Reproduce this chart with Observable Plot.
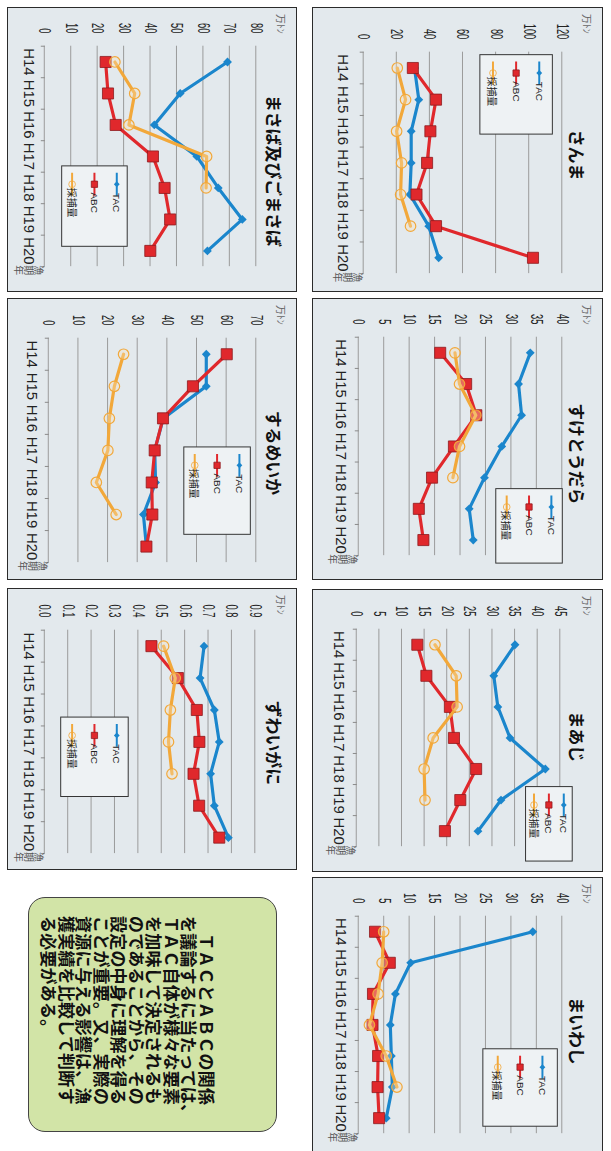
<!DOCTYPE html>
<html><head><meta charset="utf-8">
<script src="https://cdn.jsdelivr.net/npm/d3@7"></script>
<script src="https://cdn.jsdelivr.net/npm/@observablehq/plot@0.6"></script>
<style>
html,body{margin:0;padding:0;background:#fff;overflow:hidden;width:611px;height:1151px;}
#rot{position:absolute;left:0;top:0;width:1160px;height:611px;transform-origin:0 0;transform:translate(611px,0) rotate(90deg);}
.panel{position:absolute;background:#e3e9ed;border:1.5px solid #2b2b2b;box-sizing:border-box;overflow:hidden}
.panel svg{position:absolute;left:-1.5px;top:-1.5px}
#note{position:absolute;background:#d2e4a7;border:1.5px solid #444;border-radius:17px;box-sizing:border-box}
#note .txt{position:absolute;font-family:"Noto Sans CJK JP",sans-serif;font-weight:700;font-size:17px;line-height:17.5px;letter-spacing:0.2px;color:#111;white-space:pre}
</style></head><body><div id="rot"></div><script>
const years = ["H14","H15","H16","H17","H18","H19","H20"];
const seriesNames = ["TAC","ABC","採捕量"];
const titles = ["さんま","すけとうだら","まあじ","まいわし","まさば及びごまさば","するめいか","ずわいがに"];
const unitLabel = "万ﾄﾝ";
const xTitle = ["漁","期","年"];

const sanmaTAC = [31, 33.6, 29, 29, 28.2, 39.6, 45.6];
const sanmaABC = [30, 44, 40.6, 38.6, 32.2, 44, 102.6];
const sanmaCatch = [20.6, 25.6, 20.2, 23.2, 22.6, 28.6];
const sanmaTicks = [0, 20, 40, 60, 80, 100, 120];

const sukesoTAC = [33.8, 31.5, 32.1, 28.2, 24.8, 21.8, 22.6];
const sukesoABC = [16.1, 21.2, 23.2, 18.8, 14.5, 11.9, 12.8];
const sukesoCatch = [19.0, 19.9, 23.1, 19.9, 18.6];
const sukesoTicks = [0, 5, 10, 15, 20, 25, 30, 35, 40];

const maajiTAC = [35.1, 30.4, 31.3, 34.0, 41.8, 32.0, 26.9];
const maajiABC = [13.5, 15.5, 20.7, 21.6, 26.5, 23.0, 19.6];
const maajiCatch = [17.4, 22.1, 22.3, 17.0, 15.0, 15.2];
const maajiTicks = [0, 5, 10, 15, 20, 25, 30, 35, 40, 45];

const maiwashiTAC = [34.3, 10.3, 7.3, 6.3, 6.5, 6.7, 5.5];
const maiwashiABC = [3.3, 6.2, 2.9, 2.8, 3.9, 3.8, 4.1];
const maiwashiCatch = [5.0, 4.7, 3.9, 2.2, 5.5, 7.6];
const maiwashiTicks = [0, 5, 10, 15, 20, 25, 30, 35, 40];

const masabaTAC = [69.3, 51.4, 41.6, 57.7, 65.8, 74.9, 61.7];
const masabaABC = [23.2, 24.1, 27.0, 41.1, 45.5, 47.6, 40.1];
const masabaCatch = [26.7, 34.2, 32.0, 61.4, 61.2];
const masabaTicks = [0, 10, 20, 30, 40, 50, 60, 70, 80];

const surumeTAC = [53.3, 53.3, 38.8, 35.9, 36.2, 32.1, 33.1];
const surumeABC = [60.2, 48.8, 38.7, 35.9, 34.9, 35.1, 33.1];
const surumeCatch = [25.4, 22.3, 20.6, 20.1, 16.2, 22.9];
const surumeTicks = [0, 10, 20, 30, 40, 50, 60, 70];

const zuwaiTAC = [0.683, 0.666, 0.727, 0.748, 0.711, 0.727, 0.787];
const zuwaiABC = [0.458, 0.571, 0.652, 0.663, 0.638, 0.662, 0.748];
const zuwaiCatch = [0.510, 0.560, 0.539, 0.531, 0.546];
const zuwaiTicks = [0, 0.1, 0.2, 0.3, 0.4, 0.5, 0.6, 0.7, 0.8, 0.9];

const noteLines = ["　ＴＡＣとＡＢＣの関係","を議論するに当たっては、","ＴＡＣ自体が様々な要素","を加味して決定されるも","のであることから、その","設定の中身に理解を得る","ことが重要。又、実際の","資源に与える影響は、漁","獲実績を比較して判断す","る必要がある。"];

const species = [
  {tac: sanmaTAC, abc: sanmaABC, cat: sanmaCatch, ticks: sanmaTicks},
  {tac: sukesoTAC, abc: sukesoABC, cat: sukesoCatch, ticks: sukesoTicks},
  {tac: maajiTAC, abc: maajiABC, cat: maajiCatch, ticks: maajiTicks},
  {tac: maiwashiTAC, abc: maiwashiABC, cat: maiwashiCatch, ticks: maiwashiTicks},
  {tac: masabaTAC, abc: masabaABC, cat: masabaCatch, ticks: masabaTicks},
  {tac: surumeTAC, abc: surumeABC, cat: surumeCatch, ticks: surumeTicks},
  {tac: zuwaiTAC, abc: zuwaiABC, cat: zuwaiCatch, ticks: zuwaiTicks, dec: 1}
];

// layout in the unrotated frame (1151 x 611), then turned 90deg clockwise
const layout = [
  {x:7,   y:8,   w:285, h:291, ml:45, pw:223, mt:41, ph:200, xg:15, tx:149, ty:26, lg:{x:48,y:51,w:80,h:73,g:23.3}},
  {x:298, y:8,   w:282, h:291, ml:39, pw:220, mt:41, ph:205, xg:12, tx:157, ty:26, lg:{x:192,y:41,w:75,h:67,g:22.5}},
  {x:589, y:8,   w:283, h:291, ml:40, pw:219, mt:43, ph:205, xg:12, tx:149, ty:26, lg:{x:199,y:31,w:75,h:47,g:15}},
  {x:877, y:8,   w:283, h:291, ml:39, pw:219, mt:41, ph:205, xg:12, tx:155, ty:26, lg:{x:173,y:46,w:78,h:75,g:22.5}},
  {x:7,   y:314, w:285, h:290, ml:39, pw:222, mt:41, ph:213, xg:10, tx:165, ty:22.5, lg:{x:160,y:171,w:81,h:66,g:22.5}},
  {x:298, y:314, w:282, h:290, ml:40, pw:226, mt:41, ph:209, xg:11, tx:156, ty:22.5, lg:{x:150,y:47,w:88,h:67,g:22.5}},
  {x:588, y:314, w:282, h:290, ml:42, pw:225, mt:42, ph:212, xg:10, tx:156, ty:22.5, lg:{x:130,y:170,w:80,h:68,g:22.5}}
];
const noteBox = {x:897, y:334, w:235, h:249, tx:18, ty:60};

const colors = {tac:"#1b86cc", abc:"#e0282c", abcEdge:"#8e1a1e", cat:"#f2a83a"};
const latin = "'Liberation Sans', Arial, sans-serif";
const cjk = "'Noto Sans CJK JP', sans-serif";

const root = document.getElementById("rot");

function rowsOf(arr) { return arr.map((v, i) => ({i, v})); }

species.forEach((S, k) => {
  const L = layout[k];
  const tac = rowsOf(S.tac), abc = rowsOf(S.abc), cat = rowsOf(S.cat);
  const idx = years.map((_, i) => i);
  const bounds = years.map((_, i) => i - 0.5).concat([years.length - 0.5]);
  const fmt = S.dec ? (d => d.toFixed(1)) : (d => String(d));
  const svg = Plot.plot({
    width: L.w, height: L.h,
    marginLeft: L.ml, marginRight: L.w - L.ml - L.pw,
    marginTop: L.mt, marginBottom: L.h - L.mt - L.ph,
    style: {background: "transparent", overflow: "visible", fontFamily: latin},
    x: {type: "linear", domain: [-0.5, years.length - 0.5]},
    y: {type: "linear", domain: [0, S.ticks[S.ticks.length - 1]]},
    marks: [
      Plot.gridY(S.ticks, {stroke: "#9a9a9a", strokeOpacity: 1, strokeWidth: 1}),
      Plot.axisX(bounds, {tickSize: 4, tickFormat: () => "", stroke: "#8a8a8a", label: null}),
      Plot.axisX(idx, {tickSize: 0, tickPadding: L.xg, tickFormat: i => years[i], fontSize: 15, fill: "#222", label: null}),
      Plot.axisY(S.ticks, {tickSize: 0, tickPadding: 13, tickFormat: fmt, fontSize: 16, fill: "#222", label: null}),
      Plot.line(tac, {x: "i", y: "v", stroke: colors.tac, strokeWidth: 3.2}),
      Plot.dot(tac, {x: "i", y: "v", symbol: "diamond2", r: 4, fill: colors.tac}),
      Plot.line(abc, {x: "i", y: "v", stroke: colors.abc, strokeWidth: 3.2}),
      Plot.dot(abc, {x: "i", y: "v", symbol: "square", r: 6.3, fill: colors.abc, stroke: colors.abcEdge, strokeWidth: 0.8}),
      Plot.line(cat, {x: "i", y: "v", stroke: colors.cat, strokeWidth: 3.2}),
      Plot.dot(cat, {x: "i", y: "v", symbol: "circle", r: 5.3, fill: "#f6e2bd", fillOpacity: 0.35, stroke: colors.cat, strokeWidth: 1.2})
    ]
  });
  const s = d3.select(svg);
  // condensed y tick labels
  s.selectAll('[aria-label="y-axis tick label"] text').each(function() {
    const t = this.textContent;
    let len = 0;
    for (const ch of t) len += ch === "." ? 2.6 : 5.2;
    this.setAttribute("textLength", len);
    this.setAttribute("lengthAdjust", "spacingAndGlyphs");
  });
  // title
  s.append("text").attr("x", L.tx).attr("y", L.ty).attr("text-anchor", "middle").attr("dominant-baseline", "central")
    .attr("font-family", cjk).attr("font-weight", 700).attr("font-size", 17).attr("fill", "#111").text(titles[k]);
  // unit
  s.append("text").attr("x", 17).attr("y", 20).attr("font-family", cjk).attr("font-size", 10).attr("fill", "#666").text(unitLabel);
  // x title (vertical)
  const xt = s.append("text").attr("font-family", cjk).attr("font-size", 10).attr("fill", "#555").attr("text-anchor", "middle");
  xTitle.forEach((c, j) => xt.append("tspan").attr("x", L.ml + L.pw + 4).attr("y", L.mt + L.ph + 10 + j * 10).text(c));
  // legend
  const g = L.lg;
  const lgG = s.append("g");
  lgG.append("rect").attr("x", g.x).attr("y", g.y).attr("width", g.w).attr("height", g.h)
    .attr("fill", "#eef2f4").attr("stroke", "#333").attr("stroke-width", 1);
  const top = g.y + (g.h - 2 * g.g) / 2;
  const sym = [
    {c: colors.tac, t: d3.symbolDiamond2, size: 22, fill: colors.tac, stroke: "none"},
    {c: colors.abc, t: d3.symbolSquare, size: 40, fill: colors.abc, stroke: colors.abcEdge},
    {c: colors.cat, t: d3.symbolCircle, size: 36, fill: "none", stroke: colors.cat}
  ];
  seriesNames.forEach((name, j) => {
    const yy = top + j * g.g;
    lgG.append("line").attr("x1", g.x + 7).attr("x2", g.x + 30).attr("y1", yy).attr("y2", yy)
      .attr("stroke", sym[j].c).attr("stroke-width", 2);
    lgG.append("path").attr("d", d3.symbol(sym[j].t, sym[j].size)()).attr("transform", `translate(${g.x + 18.5},${yy})`)
      .attr("fill", sym[j].fill).attr("stroke", sym[j].stroke).attr("stroke-width", 0.8);
    lgG.append("text").attr("x", g.x + 37).attr("y", yy).attr("dominant-baseline", "central")
      .attr("font-family", j === 2 ? cjk : latin).attr("font-size", 10).attr("fill", "#222").text(name);
  });
  const div = document.createElement("div");
  div.className = "panel";
  Object.assign(div.style, {left: L.x + "px", top: L.y + "px", width: L.w + "px", height: L.h + "px"});
  div.appendChild(svg);
  root.appendChild(div);
});

const note = document.createElement("div");
note.id = "note";
Object.assign(note.style, {left: noteBox.x + "px", top: noteBox.y + "px", width: noteBox.w + "px", height: noteBox.h + "px"});
const txt = document.createElement("div");
txt.className = "txt";
Object.assign(txt.style, {left: noteBox.tx + "px", top: noteBox.ty + "px"});
txt.textContent = noteLines.join("\n");
note.appendChild(txt);
root.appendChild(note);
</script></body></html>
